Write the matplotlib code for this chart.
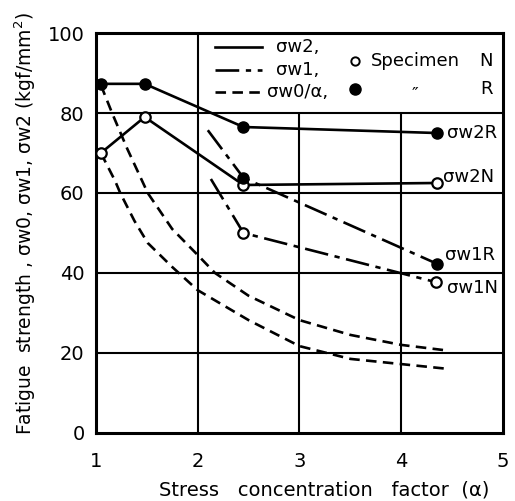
import matplotlib
matplotlib.use("Agg")
import matplotlib.pyplot as plt

# sigma_w2 (solid), specimens N and R
a_w2 = [1.05, 1.48, 2.45, 4.35]
w2_R = [87.3, 87.3, 76.5, 75.0]
w2_N = [70.0, 79.0, 62.0, 62.5]

# sigma_w1 (dash-dot)
a_w1R = [2.10, 2.45, 4.35]
w1_R = [75.7, 63.8, 42.3]
a_w1N = [2.13, 2.45, 4.34]
w1_N = [63.5, 50.0, 37.7]

# sigma_w0 / alpha (dashed)
a_w0R = [1.05, 1.16, 1.31, 1.51, 1.75, 2.0, 2.17, 2.5, 3.0, 3.5, 4.0, 4.45]
w0_R = [87.0, 80.0, 71.0, 60.0, 51.0, 44.5, 40.0, 34.3, 28.2, 24.5, 22.0, 20.6]
a_w0N = [1.05, 1.19, 1.24, 1.38, 1.51, 1.75, 2.0, 2.5, 3.0, 3.5, 4.0, 4.46]
w0_N = [70.0, 63.0, 60.0, 53.0, 47.5, 41.5, 35.7, 28.2, 21.7, 18.5, 17.2, 16.0]

xticks = [1, 2, 3, 4, 5]
yticks = [0, 20, 40, 60, 80, 100]

plt.rcParams['font.family'] = ['DejaVu Sans']
fig = plt.figure(figsize=(5.15, 5.01), dpi=100)
ax = fig.add_axes([0.186, 0.136, 0.791, 0.798])
ax.set_xlim(1, 5)
ax.set_ylim(0, 100)

# grid (legend box occupies upper right, x>2 and y>80)
for y in [20, 40, 60, 80]:
    ax.axhline(y, color='black', lw=1.5, zorder=1)
ax.axvline(2, color='black', lw=1.5, zorder=1)
ax.vlines([3, 4], 0, 80, color='black', lw=1.5, zorder=1)

lw = 1.9
dashed = (0, (4, 2.4))
dashdot = (0, (9, 2.5, 2, 2.5))

ax.plot(a_w0R, w0_R, color='black', lw=lw, ls=dashed, zorder=2)
ax.plot(a_w0N, w0_N, color='black', lw=lw, ls=dashed, zorder=2)
ax.plot(a_w1R, w1_R, color='black', lw=lw, ls=dashdot, zorder=2)
ax.plot(a_w1N, w1_N, color='black', lw=lw, ls=dashdot, zorder=2)
ax.plot(a_w2, w2_R, color='black', lw=lw, zorder=3)
ax.plot(a_w2, w2_N, color='black', lw=lw, zorder=3)

# markers
ax.plot(a_w2, w2_R, 'o', color='black', ms=8, zorder=4)
ax.plot(a_w2, w2_N, 'o', mfc='white', mec='black', mew=1.6, ms=7.5, zorder=4)
ax.plot(a_w1R[1:], w1_R[1:], 'o', color='black', ms=8, zorder=4)
ax.plot(a_w1N[1:], w1_N[1:], 'o', mfc='white', mec='black', mew=1.6, ms=7.5, zorder=4)

# end labels
fs = 13
ax.text(4.45, 75.0, 'σw2R', fontsize=fs, va='center', ha='left')
ax.text(4.41, 64.0, 'σw2N', fontsize=fs, va='center', ha='left')
ax.text(4.43, 44.5, 'σw1R', fontsize=fs, va='center', ha='left')
ax.text(4.45, 36.2, 'σw1N', fontsize=fs, va='center', ha='left')

# legend drawn by hand inside the box
ax.plot([2.17, 2.63], [96.5, 96.5], color='black', lw=lw)
ax.plot([2.17, 2.63], [90.8, 90.8], color='black', lw=lw, ls=dashdot)
ax.plot([2.17, 2.63], [85.2, 85.2], color='black', lw=lw, ls=dashed)
ax.text(2.77, 96.5, 'σw2,', fontsize=fs, va='center')
ax.text(2.77, 90.8, 'σw1,', fontsize=fs, va='center')
ax.text(2.68, 85.2, 'σw0/α,', fontsize=fs, va='center')
ax.plot([3.55], [93.0], 'o', mfc='white', mec='black', mew=1.4, ms=6)
ax.text(3.7, 93.0, 'Specimen', fontsize=fs, va='center')
ax.text(4.9, 93.0, 'N', fontsize=fs, va='center', ha='right')
ax.plot([3.55], [86.0], 'o', color='black', ms=8)
ax.text(4.13, 84.5, '″', fontsize=fs, va='center', ha='center')
ax.text(4.9, 86.0, 'R', fontsize=fs, va='center', ha='right')

for s in ax.spines.values():
    s.set_linewidth(2.2)
ax.set_xticks(xticks)
ax.set_yticks(yticks)
ax.tick_params(length=0, labelsize=14)
ax.tick_params(axis='x', pad=14)
ax.tick_params(axis='y', pad=8)

fig.text(0.629, 0.022, 'Stress   concentration   factor  (α)', fontsize=14,
         ha='center', va='center')
fig.text(0.05, 0.553, 'Fatigue  strength , σw0, σw1, σw2 (kgf/mm$^2$)',
         fontsize=13.5, rotation=90, ha='center', va='center')

fig.savefig('out.png', dpi=100)
